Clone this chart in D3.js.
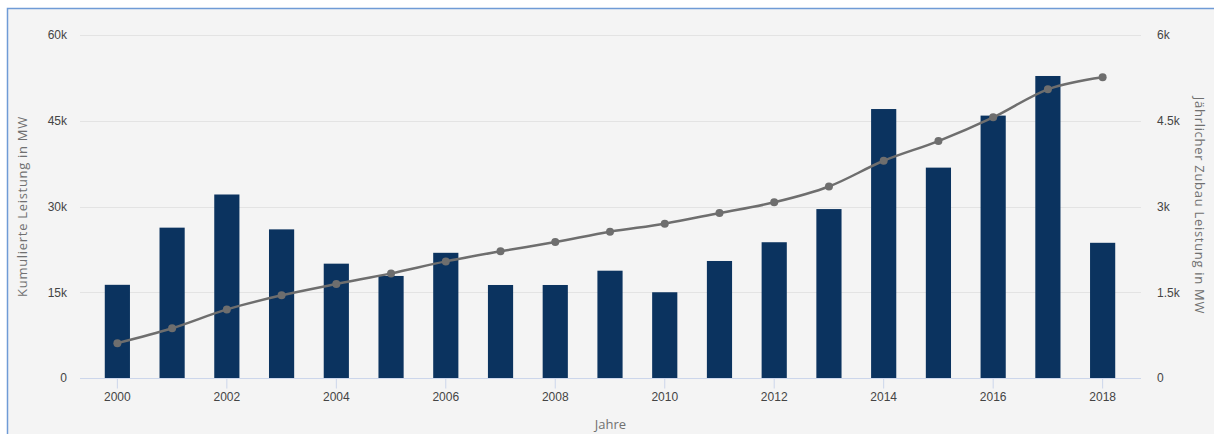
<!DOCTYPE html>
<html>
<head>
<meta charset="utf-8">
<script src="https://cdn.jsdelivr.net/npm/d3@7/dist/d3.min.js"></script>
<style>
    body { margin: 0; background: #ffffff; }
    svg { display: block; font-family: "Open Sans", "Noto Sans", sans-serif; }
    .tick text { fill: #444444; font-size: 12px; }
    .axisTitle { fill: #707070; font-size: 13px; }
    .vTitle { letter-spacing: 0.7px; }
</style>
</head>
<body>
<div id="chart"></div>
<script>
// data
var years = ["2000", "2001", "2002", "2003", "2004", "2005", "2006", "2007", "2008", "2009",
    "2010", "2011", "2012", "2013", "2014", "2015", "2016", "2017", "2018"];
// annual additions (MW), right axis
var zubau = [1630, 2630, 3210, 2600, 2000, 1785, 2190, 1627, 1627, 1877,
    1500, 2047, 2375, 2955, 4705, 3680, 4590, 5283, 2365];
// cumulative capacity (MW), left axis
var kumuliert = [6100, 8700, 12000, 14460, 16440, 18300, 20400, 22160, 23790, 25600,
    27000, 28860, 30730, 33500, 38000, 41450, 45600, 50500, 52600];
var leftTicks = [0, 15000, 30000, 45000, 60000];
var rightTicks = [0, 1500, 3000, 4500, 6000];

function kFormat(v) {
    "use strict";
    return v === 0 ? "0" : (v / 1000) + "k";
}

function drawChart() {
    "use strict";
    var width = 1214;
    var height = 434;
    var plotLeft = 80, plotRight = 1141, plotTop = 35, plotBottom = 378;

    var svg = d3.select("#chart")
        .append("svg")
        .attr("width", width)
        .attr("height", height);

    // frame
    svg.append("rect")
        .attr("x", 7).attr("y", 8)
        .attr("width", width).attr("height", height)
        .attr("fill", "#f4f4f4");
    svg.append("path")
        .attr("d", "M7.5," + height + "V8.5H" + width)
        .attr("fill", "none")
        .attr("stroke", "#6f9bd6")
        .attr("stroke-width", 1.5);

    var x = d3.scaleBand()
        .domain(years)
        .range([90, 1130])
        .paddingInner(0.54)
        .paddingOuter(0.27);
    var yLeft = d3.scaleLinear().domain([0, 60000]).range([plotBottom, plotTop]);
    var yRight = d3.scaleLinear().domain([0, 6000]).range([plotBottom, plotTop]);

    // grid lines
    svg.append("g")
        .selectAll("line")
        .data(leftTicks.slice(1))
        .enter()
        .append("line")
        .attr("x1", plotLeft).attr("x2", plotRight)
        .attr("y1", function(d) { return Math.round(yLeft(d)) + 0.5; })
        .attr("y2", function(d) { return Math.round(yLeft(d)) + 0.5; })
        .attr("stroke", "#e3e3e3")
        .attr("stroke-width", 1);

    // left axis
    var leftAxis = svg.append("g")
        .attr("transform", "translate(67,0)")
        .call(d3.axisLeft(yLeft).tickValues(leftTicks).tickFormat(kFormat).tickSize(0).tickPadding(0));
    leftAxis.select(".domain").remove();

    // right axis
    var rightAxis = svg.append("g")
        .attr("transform", "translate(1157,0)")
        .call(d3.axisRight(yRight).tickValues(rightTicks).tickFormat(kFormat).tickSize(0).tickPadding(0));
    rightAxis.select(".domain").remove();
    rightAxis.selectAll("text").attr("fill", "#2f3b4c");

    // bars
    svg.append("g")
        .selectAll("rect")
        .data(years)
        .enter()
        .append("rect")
        .attr("x", function(d) { return x(d); })
        .attr("y", function(d, i) { return yRight(zubau[i]); })
        .attr("width", x.bandwidth())
        .attr("height", function(d, i) { return plotBottom - yRight(zubau[i]); })
        .attr("fill", "#0b335f");

    // x axis
    svg.append("line")
        .attr("x1", plotLeft).attr("x2", plotRight)
        .attr("y1", plotBottom + 0.5).attr("y2", plotBottom + 0.5)
        .attr("stroke", "#ccd6eb");
    var bottomAxis = svg.append("g")
        .attr("transform", "translate(0," + (plotBottom + 0.5) + ")")
        .call(d3.axisBottom(x)
            .tickValues(years.filter(function(d, i) { return i % 2 === 0; }))
            .tickSize(10)
            .tickPadding(4));
    bottomAxis.select(".domain").remove();
    bottomAxis.selectAll(".tick line").attr("stroke", "#ccd6eb");

    // cumulative line
    var line = d3.line()
        .curve(d3.curveMonotoneX)
        .x(function(d, i) { return x(years[i]) + x.bandwidth() / 2; })
        .y(function(d) { return yLeft(d); });
    svg.append("path")
        .datum(kumuliert)
        .attr("d", line)
        .attr("fill", "none")
        .attr("stroke", "#6e6e6e")
        .attr("stroke-width", 2.5);
    svg.append("g")
        .selectAll("circle")
        .data(kumuliert)
        .enter()
        .append("circle")
        .attr("cx", function(d, i) { return x(years[i]) + x.bandwidth() / 2; })
        .attr("cy", function(d) { return yLeft(d); })
        .attr("r", 4)
        .attr("fill", "#6e6e6e");

    // axis titles
    svg.append("text")
        .attr("class", "axisTitle vTitle")
        .attr("text-anchor", "middle")
        .attr("transform", "translate(27," + ((plotTop + plotBottom) / 2) + ") rotate(-90)")
        .text("Kumulierte Leistung in MW");
    svg.append("text")
        .attr("class", "axisTitle vTitle")
        .attr("text-anchor", "middle")
        .attr("transform", "translate(1195," + ((plotTop + plotBottom) / 2 - 1) + ") rotate(90)")
        .text("Jährlicher Zubau Leistung in MW");
    svg.append("text")
        .attr("class", "axisTitle")
        .attr("text-anchor", "middle")
        .attr("x", (plotLeft + plotRight) / 2)
        .attr("y", 429)
        .text("Jahre");
}

drawChart();
</script>
</body>
</html>
